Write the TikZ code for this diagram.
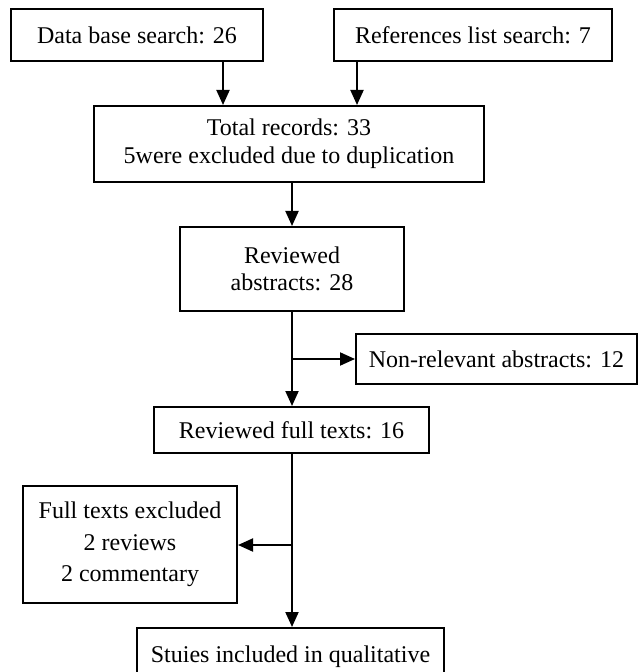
\documentclass[tikz,border=0pt]{standalone}
\usepackage{fontspec}
\setmainfont{Liberation Serif}
\usetikzlibrary{arrows.meta}
\begin{document}
\begin{tikzpicture}[x=0.5pt,y=-0.5pt,
  box/.style={draw,line width=1pt,inner sep=0pt,align=center,font=\fontsize{12}{14}\selectfont},
  arr/.style={line width=1pt,-{Triangle[length=7.5pt,width=6.5pt]}},
  ln/.style={line width=1pt}]
\useasboundingbox (0,0) rectangle (640,672);
\clip (0,0) rectangle (640,672);
% nodes
\node[box,minimum width=126pt,minimum height=26pt] (db) at (137,35) {Data base search: 26};
\node[box,minimum width=139pt,minimum height=26pt] (ref) at (473,35) {References list search: 7};
\node[box,minimum width=195pt,minimum height=38pt] (total) at (289,144) {Total records: 33\\5were excluded due to duplication};
\node[box,minimum width=112pt,minimum height=42pt,font=\fontsize{12}{13.5}\selectfont] (rev) at (292,269) {Reviewed\\abstracts: 28};
\node[box,minimum width=140.5pt,minimum height=25pt] (nonrel) at (496.5,359) {Non-relevant abstracts: 12};
\node[box,minimum width=137.5pt,minimum height=23pt] (full) at (291.5,430) {Reviewed full texts: 16};
\node[box,minimum width=107pt,minimum height=58.5pt,font=\fontsize{12}{15.75}\selectfont] (excl) at (130,544.5) {Full texts excluded\\2 reviews\\2 commentary};
\node[box,anchor=north,minimum width=153.5pt,text height=17pt,text depth=40pt] (study) at (290.5,627) {Stuies included in qualitative};
% helper coordinates
\coordinate (xa) at (223,0);
\coordinate (xb) at (357,0);
\coordinate (sp) at (292,0);
\coordinate (b1) at (292,359);
\coordinate (b2) at (292,545);
% connectors
\draw[arr] (db.south -| xa) -- (total.north -| xa);
\draw[arr] (ref.south -| xb) -- (total.north -| xb);
\draw[arr] (total.south -| sp) -- (rev.north -| sp);
\draw[arr] (rev.south -| sp) -- (full.north -| sp);
\draw[arr] (b1) -- (nonrel.west);
\draw[arr] (full.south -| sp) -- (study.north -| sp);
\draw[arr] (b2) -- (excl.east |- b2);
\end{tikzpicture}
\end{document}
